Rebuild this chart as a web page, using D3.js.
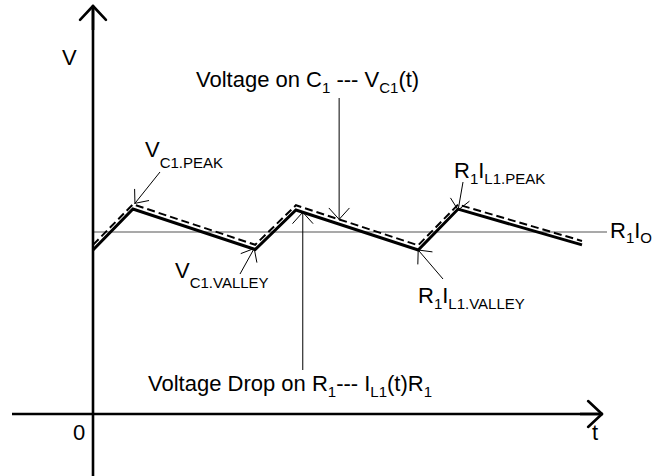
<!DOCTYPE html>
<html><head><meta charset="utf-8">
<script src="https://cdn.jsdelivr.net/npm/d3@7"></script>
<style>
html,body{margin:0;padding:0;background:#fff}
svg{display:block}
text{font-family:"Liberation Sans",Arial,sans-serif;fill:#000;white-space:pre}
</style>
</head><body>
<svg id="chart" width="667" height="476"></svg>
<script>
// Corner times of the ripple waveform (rise / fall turning points), arbitrary units
const times = [0, 2.45, 9.95, 12.45, 19.95, 22.4, 30];
// R1·IL1(t), normalised so that R1·IO = 1
const inductorDrop = [0.901, 1.126, 0.904, 1.121, 0.901, 1.126, 0.929];
// VC1(t), riding just above the inductor-current drop
const capVoltage = [0.929, 1.152, 0.930, 1.147, 0.927, 1.151, 0.951];
// Average level R1·IO
const avgLevel = [1];
// Axis captions
const axisCaptions = ["V", "t", "0"];

const MAIN = 22, SUB = 15;

const svg = d3.select("#chart");
const x = d3.scaleLinear().domain([0, 30]).range([93, 582]);
const y = d3.scaleLinear().domain([0, 1]).range([414, 232]);

// value of a piecewise-linear series at time t
function valueAt(vals, t) {
  const i = Math.min(d3.bisectRight(times, t), times.length - 1);
  const t0 = times[i - 1], t1 = times[i];
  return vals[i - 1] + (vals[i] - vals[i - 1]) * (t - t0) / (t1 - t0);
}

// open arrowhead + shaft from (x1,y1) to tip (x2,y2)
function arrow(g, x1, y1, x2, y2, len, ang, width) {
  g.append("line").attr("x1", x1).attr("y1", y1).attr("x2", x2).attr("y2", y2)
    .attr("stroke", "#000").attr("stroke-width", width);
  const a = Math.atan2(y1 - y2, x1 - x2);
  [ang, -ang].forEach(d => {
    const r = a + d * Math.PI / 180;
    g.append("line").attr("x1", x2).attr("y1", y2)
      .attr("x2", x2 + len * Math.cos(r)).attr("y2", y2 + len * Math.sin(r))
      .attr("stroke", "#000").attr("stroke-width", width).attr("stroke-linecap", "round");
  });
}

// text with subscripts: parts = [[text, isSub], ...]
function label(x0, y0, parts, shift) {
  const t = svg.append("text").attr("x", x0).attr("y", y0);
  let cur = 0;
  parts.forEach(([s, sub]) => {
    const target = sub ? shift : 0;
    t.append("tspan").attr("dy", target - cur).attr("font-size", sub ? SUB : MAIN).text(s);
    cur = target;
  });
}

// average level line R1·IO
svg.append("line")
  .attr("x1", x(0)).attr("x2", 607)
  .attr("y1", y(avgLevel[0])).attr("y2", y(avgLevel[0]))
  .attr("stroke", "#555").attr("stroke-width", 1.2);

const line = d3.line().x((d, i) => x(times[i])).y(d => y(d));

// capacitor voltage (dashed)
svg.append("path").attr("d", line(capVoltage))
  .attr("fill", "none").attr("stroke", "#000").attr("stroke-width", 2)
  .attr("stroke-dasharray", "8,4");
// resistor drop R1·IL1 (solid, heavy)
svg.append("path").attr("d", line(inductorDrop))
  .attr("fill", "none").attr("stroke", "#000").attr("stroke-width", 3);

// axes
const axes = svg.append("g");
axes.append("line").attr("x1", 12).attr("x2", 602).attr("y1", y(0)).attr("y2", y(0))
  .attr("stroke", "#000").attr("stroke-width", 2.6);
axes.append("line").attr("x1", x(0)).attr("x2", x(0)).attr("y1", 476).attr("y2", 6)
  .attr("stroke", "#000").attr("stroke-width", 2.6);
arrow(axes, x(0), 30, x(0), 6, 19, 43, 2.6);
arrow(axes, 580, y(0), 602, y(0), 19, 43, 2.6);

label(62, 65, [[axisCaptions[0]]], 0);
label(592, 440, [[axisCaptions[1]]], 0);
label(73, 440, [[axisCaptions[2]]], 0);

// annotations
const ann = svg.append("g");
arrow(ann, 160, 172, x(times[1]) + 2, y(capVoltage[1]) - 1, 14, 40, 1);
label(145, 157, [["V"], ["C1.PEAK", 1]], 11);

arrow(ann, 240, 274, x(times[2]) - 1, y(inductorDrop[2]) - 1, 14, 40, 1);
label(175, 278, [["V"], ["C1.VALLEY", 1]], 10);

const tC = 15.1;
arrow(ann, x(tC), 98, x(tC), y(valueAt(capVoltage, tC)), 15, 42, 1);
label(196, 87, [["Voltage on C"], ["1", 1], [" --- V"], ["C1", 1], ["(t)"]], 6);

const tR = 12.87;
arrow(ann, x(tR), 370, x(tR), y(valueAt(inductorDrop, tR)), 15, 42, 1);
label(148, 391, [["Voltage Drop on R"], ["1", 1], ["--- I"], ["L1", 1], ["(t)R"], ["1", 1]], 6);

arrow(ann, 463, 182, x(times[5]), y(inductorDrop[5]) + 1, 14, 42, 1);
label(454, 178, [["R"], ["1", 1], ["I"], ["L1.PEAK", 1]], 6);

arrow(ann, 443, 279, x(times[4]), y(inductorDrop[4]), 14, 42, 1);
label(418, 303, [["R"], ["1", 1], ["I"], ["L1.VALLEY", 1]], 6);

label(610, 238, [["R"], ["1", 1], ["I"], ["O", 1]], 5);
</script>
</body></html>
